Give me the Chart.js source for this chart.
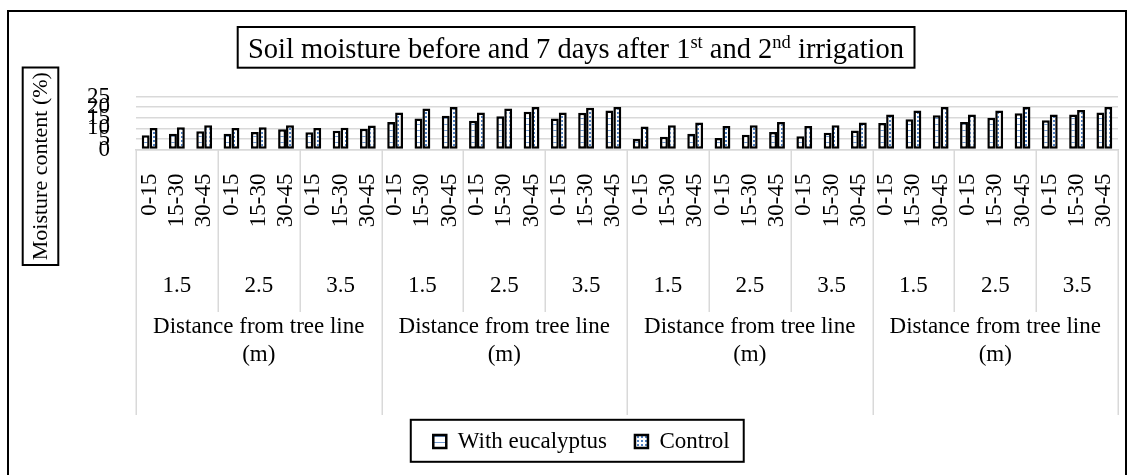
<!DOCTYPE html>
<html><head><meta charset="utf-8">
<script src="https://cdn.jsdelivr.net/npm/chart.js@4.4.1/dist/chart.umd.min.js"></script>
<style>html,body{margin:0;padding:0;background:#fff;}#wrap{width:1134px;height:475px;position:relative;}</style>
</head><body>
<div id="wrap"><canvas id="c" width="1134" height="475"></canvas></div>
<script>
// ---- data ----
const depthLabels = ['0-15', '15-30', '30-45'];
const distanceLabels = ['1.5', '2.5', '3.5'];
const groupLabelLines = [
  ['Distance from tree line', '(m)'],
  ['Distance from tree line', '(m)'],
  ['Distance from tree line', '(m)'],
  ['Distance from tree line', '(m)']
];
const seriesNames = ['With eucalyptus', 'Control'];
const withEucalyptus = [
  6.7, 7.4, 8.6,   7.4, 8.3, 9.5,   8.1, 8.8, 9.8,
  13.0, 14.6, 15.9, 13.6, 15.7, 17.8, 14.6, 17.3, 18.4,
  5.0, 6.0, 7.4,   5.4, 7.0, 8.3,   6.3, 7.9, 9.0,
  12.5, 14.3, 16.2, 13.0, 15.0, 17.1, 13.8, 16.5, 17.4
];
const control = [
  10.1, 10.5, 11.4, 10.1, 10.5, 11.4, 10.1, 10.3, 11.3,
  17.4, 19.3, 20.1, 17.4, 19.3, 20.1, 17.4, 19.7, 20.1,
  10.9, 11.4, 12.7, 11.1, 11.4, 13.0, 11.1, 11.4, 12.7,
  16.5, 18.4, 20.1, 16.5, 18.4, 20.1, 16.5, 18.6, 20.1
];
const yMin = 0, yMax = 25, yStep = 5;
const yTitle = 'Moisture content (%)';
const titleParts = [
  ['Soil moisture before and 7 days after 1', false],
  ['st', true],
  [' and 2', false],
  ['nd', true],
  [' irrigation', false]
];

// ---- build categories ----
const categories = [];
groupLabelLines.forEach(() => distanceLabels.forEach(() => depthLabels.forEach(d => categories.push(d))));

const FONT = "'Liberation Serif', 'Times New Roman', serif";

function makePattern(kind) {
  const c = document.createElement('canvas');
  const g = c.getContext('2d');
  if (kind === 'euc') {
    c.width = 4; c.height = 6;
    g.fillStyle = '#fff'; g.fillRect(0, 0, 4, 6);
    g.fillStyle = '#6f98cf'; g.fillRect(0, 4, 4, 1);
  } else {
    c.width = 4; c.height = 4;
    g.fillStyle = '#fff'; g.fillRect(0, 0, 4, 4);
    g.fillStyle = '#4f7fc0'; g.fillRect(1, 0, 2, 2);
  }
  return g.createPattern(c, 'repeat');
}

const decor = {
  id: 'decor',
  afterDraw(chart) {
    const ctx = chart.ctx;
    const xs = chart.scales.x;
    const ca = chart.chartArea;
    ctx.save();
    // outer frame
    ctx.strokeStyle = '#000'; ctx.lineWidth = 2;
    ctx.strokeRect(8, 11, 1118, 480);

    // title with superscripts
    const tSize = 28.5, sSize = 18.5;
    let w = 0;
    titleParts.forEach(([t, sup]) => { ctx.font = (sup ? sSize : tSize) + 'px ' + FONT; w += ctx.measureText(t).width; });
    let tx = 576 - w / 2;
    const tb = 57.5;
    ctx.fillStyle = '#000'; ctx.textBaseline = 'alphabetic'; ctx.textAlign = 'left';
    titleParts.forEach(([t, sup]) => {
      ctx.font = (sup ? sSize : tSize) + 'px ' + FONT;
      ctx.fillText(t, tx, sup ? tb - 10 : tb);
      tx += ctx.measureText(t).width;
    });
    ctx.strokeRect(237.7, 27, 914.5 - 237.7, 40.7);

    // y axis title box
    ctx.strokeRect(22.7, 67.5, 35.6, 197.5);
    ctx.save();
    ctx.translate(40.5, 166.2);
    ctx.rotate(-Math.PI / 2);
    ctx.font = '22px ' + FONT;
    ctx.textAlign = 'center'; ctx.textBaseline = 'middle';
    ctx.fillText(yTitle, 0, 1);
    ctx.restore();

    // category separators
    ctx.strokeStyle = '#d9d9d9'; ctx.lineWidth = 1.5;
    for (let k = 0; k <= categories.length; k += 3) {
      const px = Math.round(xs.getPixelForValue(k - 0.5)) + 0.25;
      const bottom = (k % 9 === 0) ? 415 : 312;
      ctx.beginPath(); ctx.moveTo(px, ca.bottom); ctx.lineTo(px, bottom); ctx.stroke();
    }
    // distance and group labels
    ctx.fillStyle = '#000';
    ctx.font = '23px ' + FONT; ctx.textAlign = 'center'; ctx.textBaseline = 'alphabetic';
    groupLabelLines.forEach((lines, g) => {
      distanceLabels.forEach((d, i) => {
        const px = xs.getPixelForValue(g * 9 + i * 3 + 1);
        ctx.fillText(d, px, 292);
      });
      const gx = xs.getPixelForValue(g * 9 + 4);
      lines.forEach((ln, j) => ctx.fillText(ln, gx, 333 + j * 28));
    });

    // legend frame
    const lg = chart.legend;
    if (lg && lg.legendHitBoxes && lg.legendHitBoxes.length) {
      const hb = lg.legendHitBoxes;
      const first = hb[0], last = hb[hb.length - 1];
      const mid = first.top + first.height / 2;
      ctx.strokeStyle = '#000'; ctx.lineWidth = 2;
      ctx.strokeRect(first.left - 22.5, mid - 21.7, (last.left + last.width + 14) - (first.left - 22.5), 42);
    }
    ctx.restore();
  }
};

new Chart(document.getElementById('c'), {
  type: 'bar',
  data: {
    labels: categories,
    datasets: [
      { label: seriesNames[0], data: withEucalyptus, backgroundColor: makePattern('euc'), borderColor: '#000', borderWidth: 2.5, borderSkipped: false },
      { label: seriesNames[1], data: control, backgroundColor: makePattern('ctrl'), borderColor: '#000', borderWidth: 2.5, borderSkipped: false }
    ]
  },
  options: {
    responsive: false,
    animation: false,
    devicePixelRatio: 1,
    layout: { padding: { top: 96.5, left: 45, right: 16, bottom: 12 } },
    datasets: { bar: { categoryPercentage: 0.58, barPercentage: 1.0 } },
    plugins: {
      title: { display: false },
      tooltip: { enabled: false },
      legend: {
        display: true,
        position: 'bottom',
        labels: { boxWidth: 13, boxHeight: 13, padding: 28, color: '#000', font: { family: FONT, size: 23 } }
      }
    },
    scales: {
      x: {
        type: 'category',
        offset: true,
        grid: { display: false, drawTicks: false },
        border: { display: true, color: '#d9d9d9', width: 1.5 },
        ticks: { autoSkip: false, minRotation: 90, maxRotation: 90, padding: 24, color: '#000', font: { family: FONT, size: 23 } },
        afterFit(s) { s.height = 252.5; s.paddingLeft = 0; s.paddingRight = 0; }
      },
      y: {
        min: yMin, max: yMax,
        grid: { color: '#d9d9d9', lineWidth: 1.5, drawTicks: false },
        border: { display: false },
        ticks: { stepSize: yStep, autoSkip: false, padding: 26, color: '#000', font: { family: FONT, size: 23 } },
        afterFit(s) { s.width = 91; }
      }
    }
  },
  plugins: [decor]
});
</script>
</body></html>
